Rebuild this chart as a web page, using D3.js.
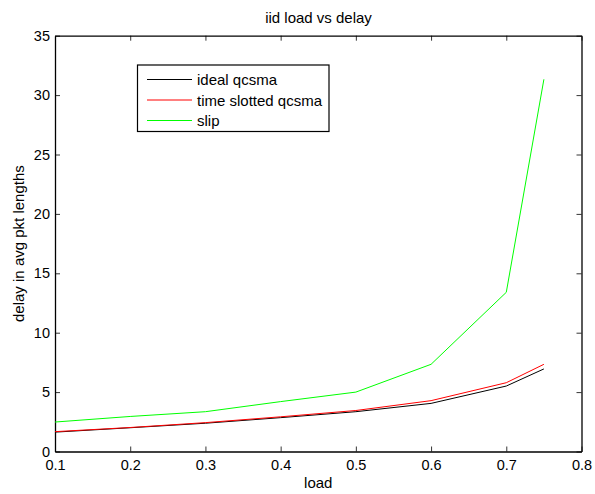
<!DOCTYPE html>
<html>
<head>
<meta charset="utf-8">
<script src="https://cdn.jsdelivr.net/npm/d3@7/dist/d3.min.js"></script>
<style>
  html, body { margin: 0; padding: 0; background: #fff; }
  svg { display: block; font-family: "Liberation Sans", Arial, Helvetica, sans-serif; }
</style>
</head>
<body>
<svg id="chart" width="595" height="494"></svg>
<script>
// Offered load (x) and mean delay in average packet lengths (y)
const load = [0.1, 0.2, 0.3, 0.4, 0.5, 0.6, 0.7, 0.75];
const idealQcsma = [1.63, 2.0, 2.38, 2.85, 3.35, 4.05, 5.51, 6.95];
const slottedQcsma = [1.67, 2.02, 2.43, 2.92, 3.45, 4.28, 5.79, 7.34];
const slip = [2.48, 2.95, 3.35, 4.2, 5.0, 7.34, 13.4, 31.33];

const xTicks = [0.1, 0.2, 0.3, 0.4, 0.5, 0.6, 0.7, 0.8];
const yTicks = [0, 5, 10, 15, 20, 25, 30, 35];

const series = [
  { name: "ideal qcsma", values: idealQcsma, color: "#000000" },
  { name: "time slotted qcsma", values: slottedQcsma, color: "#ff0000" },
  { name: "slip", values: slip, color: "#00ff00" }
];

const svg = d3.select("#chart");
const plotLeft = 55, plotRight = 581.5, plotTop = 35.7, plotBottom = 451.5;

const x = d3.scaleLinear().domain([0.1, 0.8]).range([plotLeft, plotRight]);
const y = d3.scaleLinear().domain([0, 35]).range([plotBottom, plotTop]);

const tickLen = 5;
const tickFont = 14.5;

// Axes: ticks point inward, mirrored on top and right
svg.append("g")
  .attr("transform", `translate(0,${plotBottom})`)
  .call(d3.axisBottom(x).tickValues(xTicks).tickSizeInner(-tickLen).tickSizeOuter(0).tickPadding(8).tickFormat(d3.format(".1f")))
  .call(g => g.selectAll("text").attr("font-size", tickFont).attr("fill", "#000"));

svg.append("g")
  .attr("transform", `translate(0,${plotTop})`)
  .call(d3.axisTop(x).tickValues(xTicks).tickSizeInner(-tickLen).tickSizeOuter(0).tickFormat(""));

svg.append("g")
  .attr("transform", `translate(${plotLeft},0)`)
  .call(d3.axisLeft(y).tickValues(yTicks).tickSizeInner(-tickLen).tickSizeOuter(0).tickPadding(5))
  .call(g => g.selectAll("text").attr("font-size", tickFont).attr("fill", "#000"));

svg.append("g")
  .attr("transform", `translate(${plotRight},0)`)
  .call(d3.axisRight(y).tickValues(yTicks).tickSizeInner(-tickLen).tickSizeOuter(0).tickFormat(""));

svg.selectAll(".domain").attr("stroke", "#000").attr("stroke-width", 1.3);
svg.selectAll(".tick line").attr("stroke", "#000").attr("stroke-width", 0.8);

// Series lines
const line = d3.line()
  .x((d, i) => x(load[i]))
  .y(d => y(d));

series.forEach(s => {
  svg.append("path")
    .datum(s.values)
    .attr("fill", "none")
    .attr("stroke", s.color)
    .attr("stroke-width", 1)
    .attr("d", line);
});

// Title and axis labels
svg.append("text")
  .attr("x", 318.5)
  .attr("y", 23)
  .attr("text-anchor", "middle")
  .attr("font-size", 15)
  .text("iid load vs delay");

svg.append("text")
  .attr("x", (plotLeft + plotRight) / 2)
  .attr("y", 488)
  .attr("text-anchor", "middle")
  .attr("font-size", 15)
  .text("load");

svg.append("text")
  .attr("transform", `translate(23.5,${(plotTop + plotBottom) / 2}) rotate(-90)`)
  .attr("text-anchor", "middle")
  .attr("font-size", 15)
  .text("delay in avg pkt lengths");

// Legend
const legend = svg.append("g");
legend.append("rect")
  .attr("x", 137.5).attr("y", 65)
  .attr("width", 191.5).attr("height", 66.5)
  .attr("fill", "#fff")
  .attr("stroke", "#000")
  .attr("stroke-width", 1.2);

series.forEach((s, i) => {
  const ly = 79.5 + i * 20.5;
  legend.append("line")
    .attr("x1", 147).attr("x2", 192)
    .attr("y1", ly).attr("y2", ly)
    .attr("stroke", s.color)
    .attr("stroke-width", 1);
  legend.append("text")
    .attr("x", 197).attr("y", ly + 5.5)
    .attr("font-size", 15)
    .text(s.name);
});
</script>
</body>
</html>
